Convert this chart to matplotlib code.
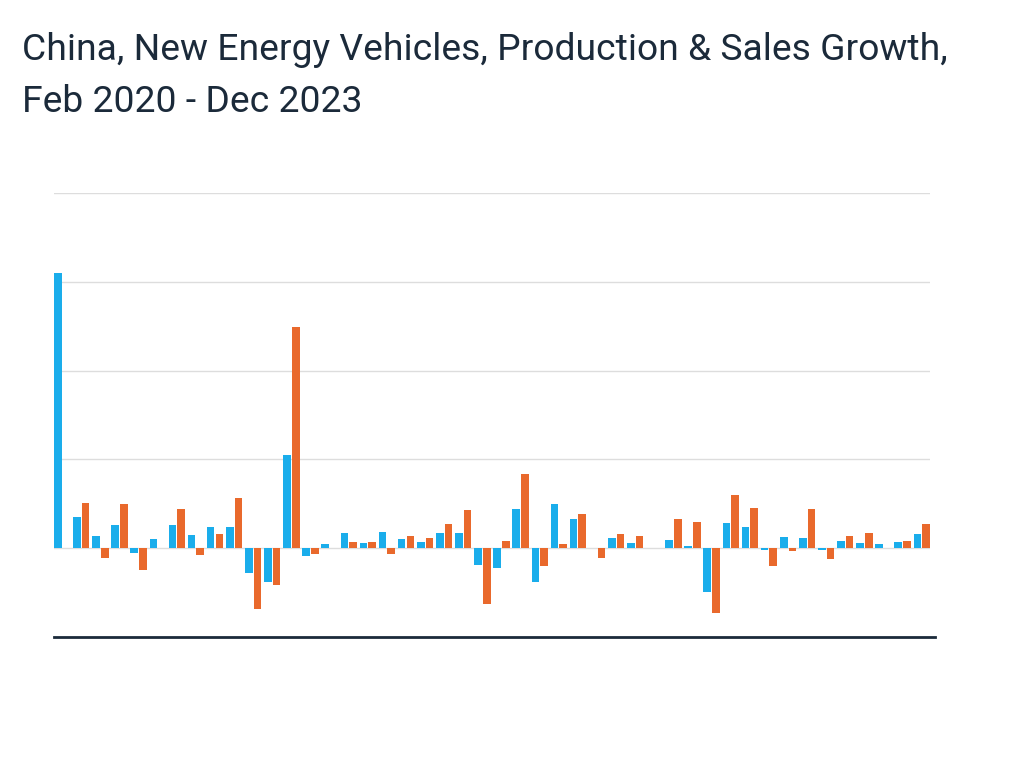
import matplotlib.pyplot as plt
import numpy as np

# growth per month (gridline step = 100%), Mar 2020 - Dec 2023
months = ['Mar 2020', 'Apr 2020', 'May 2020', 'Jun 2020', 'Jul 2020', 'Aug 2020', 'Sep 2020',
          'Oct 2020', 'Nov 2020', 'Dec 2020', 'Jan 2021', 'Feb 2021', 'Mar 2021', 'Apr 2021',
          'May 2021', 'Jun 2021', 'Jul 2021', 'Aug 2021', 'Sep 2021', 'Oct 2021', 'Nov 2021',
          'Dec 2021', 'Jan 2022', 'Feb 2022', 'Mar 2022', 'Apr 2022', 'May 2022', 'Jun 2022',
          'Jul 2022', 'Aug 2022', 'Sep 2022', 'Oct 2022', 'Nov 2022', 'Dec 2022', 'Jan 2023',
          'Feb 2023', 'Mar 2023', 'Apr 2023', 'May 2023', 'Jun 2023', 'Jul 2023', 'Aug 2023',
          'Sep 2023', 'Oct 2023', 'Nov 2023', 'Dec 2023']

production = [310, 35, 13.5, 26, -5, 10.5, 26, 15, 24, 23.5,
              -27.5, -38, 104.5, -8.5, 4.5, 17, 5.5, 18, 10.5, 6.5,
              17, 17, -19, -22, 44, -38, 49.5, 33, 0, 12,
              5.5, 0, 9.5, 3, -49.5, 28.5, 23.5, -2.5, 12.5, 11.5,
              -2.5, 8, 6, 5, 6.5, 16]

sales = [np.nan, 50.5, -11, 50, -24.5, np.nan, 44, -7.5, 16, 56.5,
         -68, -42, 249, -6.5, 0, 7, 6.5, -6.5, 13.5, 12,
         27.5, 43, -63, 8, 84, -20.5, 4.5, 39, -10.5, 15.5,
         13.5, 0, 33, 29, -73, 60, 45, -20, -3, 44,
         -12.5, 14, 17, 0, 8, 27.5]

title_lines = ['China, New Energy Vehicles, Production & Sales Growth,',
               'Feb 2020 - Dec 2023']

blue = '#1AADEB'
orange = '#E9692C'
navy = '#1B2A3A'

fig = plt.figure(figsize=(10.24, 7.68), dpi=100)
ax = fig.add_axes([54 / 1024, 131 / 768, 876 / 1024, 444 / 768])

x = np.arange(len(months))
ax.bar(x, production, width=0.40, color=blue, zorder=3)
ax.bar(x + 0.455, sales, width=0.40, color=orange, zorder=3)

ax.set_xlim(-0.2, 45.66)
ax.set_ylim(-100, 400)
ax.set_yticks([0, 100, 200, 300, 400])
ax.yaxis.grid(True, color='#DDDDDD', linewidth=1, zorder=0)
ax.set_xticks([])
ax.tick_params(axis='y', length=0, labelleft=False)
for side in ['top', 'right', 'left', 'bottom']:
    ax.spines[side].set_visible(False)

# bottom axis line, a bit longer than the plot area
ax.plot([0, 1.006], [0, 0], transform=ax.transAxes, color=navy, linewidth=2,
        clip_on=False, zorder=4)

for line, base in zip(title_lines, [60, 112]):
    fig.text(22 / 1024, 1 - base / 768, line, fontsize=26.8, family='Roboto',
             color=navy, ha='left', va='baseline')

fig.savefig('out.png', dpi=100)
